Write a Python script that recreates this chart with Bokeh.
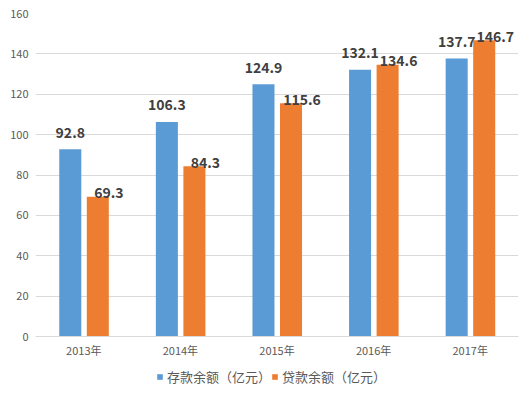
from bokeh.plotting import figure
from bokeh.models import ColumnDataSource, Legend, LegendItem, Range1d, FixedTicker
from bokeh.transform import dodge
from bokeh.core.properties import value
from bokeh.embed import file_html
from bokeh.resources import INLINE

years = ["2013年", "2014年", "2015年", "2016年", "2017年"]
deposits = [92.8, 106.3, 124.9, 132.1, 137.7]
loans = [69.3, 84.3, 115.6, 134.6, 146.7]
series_names = ["存款余额（亿元）", "贷款余额（亿元）"]
y_ticks = [0, 20, 40, 60, 80, 100, 120, 140, 160]

FONT = "Noto Sans CJK SC"
BLUE = "#5B9BD5"
ORANGE = "#ED7D31"

src = ColumnDataSource(dict(
    year=years, dep=deposits, loan=loans,
    dep_lbl=[f"{v:.1f}" for v in deposits],
    loan_lbl=[f"{v:.1f}" for v in loans],
))

# frame extends below zero to host the axis labels and legend
p = figure(x_range=years, y_range=Range1d(-27.7, 160), width=524, height=392,
           output_backend="svg", toolbar_location=None,
           min_border_left=35, min_border_right=6, min_border_top=13, min_border_bottom=0)
p.outline_line_color = None
p.background_fill_color = "white"
p.border_fill_color = "white"

r1 = p.vbar(x=dodge("year", -0.14, range=p.x_range), top="dep", bottom=0, width=0.228,
            source=src, fill_color=BLUE, line_color=None)
r2 = p.vbar(x=dodge("year", 0.145, range=p.x_range), top="loan", bottom=0, width=0.228,
            source=src, fill_color=ORANGE, line_color=None)

p.text(x=dodge("year", -0.14, range=p.x_range), y="dep", text="dep_lbl", source=src,
       text_align="center", text_baseline="middle", y_offset=-17,
       text_font=value(FONT), text_font_style="bold", text_font_size="14px",
       text_color="#404040")
p.text(x=dodge("year", 0.145, range=p.x_range), y="loan", text="loan_lbl", source=src,
       text_align="center", text_baseline="middle", x_offset=11, y_offset=-4,
       text_font=value(FONT), text_font_style="bold", text_font_size="14px",
       text_color="#404040")

p.xgrid.grid_line_color = None
p.ygrid.grid_line_color = "#D9D9D9"
p.ygrid.ticker = FixedTicker(ticks=y_ticks)
p.yaxis.ticker = FixedTicker(ticks=y_ticks)

p.yaxis.axis_line_color = None
p.yaxis.major_tick_line_color = None
p.yaxis.minor_tick_line_color = None
p.yaxis.major_tick_out = 0
p.yaxis.major_label_standoff = 7
p.yaxis.major_label_text_font = FONT
p.yaxis.major_label_text_font_size = "11px"
p.yaxis.major_label_text_color = "#595959"

p.xaxis.fixed_location = 0
p.xaxis.axis_line_color = "#D9D9D9"
p.xaxis.major_tick_line_color = None
p.xaxis.minor_tick_line_color = None
p.xaxis.major_tick_out = 0
p.xaxis.major_tick_in = 0
p.xaxis.major_label_standoff = 5
p.xaxis.major_label_text_font = FONT
p.xaxis.major_label_text_font_size = "11px"
p.xaxis.major_label_text_color = "#595959"

legend = Legend(items=[LegendItem(label=series_names[0], renderers=[r1]),
                       LegendItem(label=series_names[1], renderers=[r2])],
                orientation="horizontal", location=(121, 6),
                glyph_width=7, glyph_height=7, label_height=12,
                label_standoff=4, spacing=0, padding=0, margin=0,
                label_text_font=FONT, label_text_font_size="13px",
                label_text_color="#595959", border_line_color=None,
                background_fill_alpha=0)
p.add_layout(legend, "center")

open("out.html", "w").write(file_html(p, INLINE))
